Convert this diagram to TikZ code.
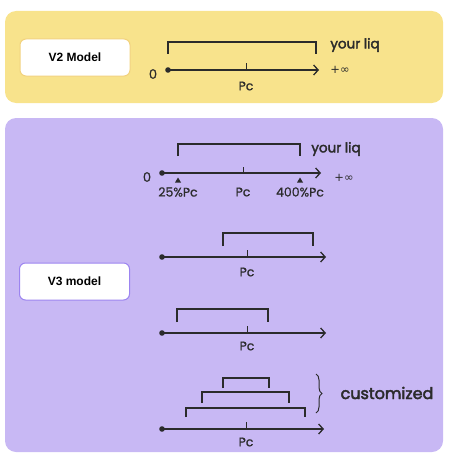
\documentclass[tikz,border=0pt]{standalone}
\usepackage{fontspec}
\setmainfont{Poppins}
\newfontfamily\arialfont{Liberation Sans}
\newfontfamily\symfont{DejaVu Sans}
\newfontfamily\medfont{Poppins}[FakeBold=0.8]
\newfontfamily\semifont{Poppins}[FakeBold=2.6]
\usetikzlibrary{arrows.meta,decorations.pathreplacing}
\definecolor{vtwofill}{HTML}{F8E38C}
\definecolor{vthreefill}{HTML}{C8B8F4}
\definecolor{vtwoline}{HTML}{F2D27E}
\definecolor{vthreeline}{HTML}{9C84F0}
\definecolor{ink}{HTML}{2B2B2B}
\tikzset{
  panel/.style={rounded corners=11pt},
  modelbox/.style={fill=white, rounded corners=6pt, line width=1pt,
    minimum width=110pt, minimum height=37pt, font=\arialfont\bfseries\fontsize{12}{14}\selectfont},
  axis/.style={draw=ink, line width=1.4pt, -{Straight Barb[length=4.5pt,width=10pt,line width=1.3pt]}},
  liq/.style={draw=ink, line width=1.5pt},
  pclabel/.style={text=ink, font=\medfont\fontsize{12.5}{14}\selectfont},
  zerolabel/.style={text=ink, font=\medfont\fontsize{13}{14}\selectfont},
  inflabel/.style={text=ink, font=\symfont\fontsize{11.5}{13}\selectfont},
  liqlabel/.style={text=ink, font=\semifont\fontsize{13.5}{15}\selectfont},
}
\begin{document}
\begin{tikzpicture}[x=1pt,y=-1pt]
\useasboundingbox (0,0) rectangle (448,460);

% panels
\fill[panel, vtwofill] (5,11) rectangle (443,103);
\fill[panel, vthreefill] (5,118) rectangle (443,452);

\node[modelbox, draw=vtwoline] (v2box) at (75,57.5) {V2 Model};
\node[modelbox, draw=vthreeline] (v3box) at (74.5,281.5) {V3 model};

% V2 axis
\coordinate (a1s) at (168,70);
\coordinate (a1e) at (319,70);
\draw[axis] (a1s) -- (a1e);
\fill[ink] (a1s) circle (2.8pt);
\coordinate (t1) at (246,70);
\draw[liq, line width=1pt] (t1) -- ++(0,-7);
\node[zerolabel] (z1) at (153,74) {0};
\node[inflabel] (i1) at (340,70) {+∞};
\node[pclabel] (p1) at (246,86) {Pc};
\coordinate (b1l) at (168,54);
\coordinate (b1r) at (316,54);
\draw[liq] (b1l) |- (242,42) -| (b1r);
\node[liqlabel] (l1) at (355,45) {your liq};

% V3 axis with bounds
\coordinate (a2s) at (162,173);
\coordinate (a2e) at (321,173);
\draw[axis] (a2s) -- (a2e);
\fill[ink] (a2s) circle (2.8pt);
\coordinate (t2) at (243,173);
\draw[liq, line width=1pt] (t2) -- ++(0,-6);
\node[zerolabel] (z2) at (147,177) {0};
\node[inflabel] (i2) at (344,178) {+∞};
\coordinate (lo) at (178,177.5);
\coordinate (hi) at (300,177.5);
\fill[ink] (lo) -- ++(-3,5) -- ++(6,0) -- cycle;
\fill[ink] (hi) -- ++(-3,5) -- ++(6,0) -- cycle;
\node[pclabel] (q1) at (178,192) {25\%Pc};
\node[pclabel] (p2) at (243,192) {Pc};
\node[pclabel] (q2) at (300,192) {400\%Pc};
\coordinate (b2l) at (178,156);
\coordinate (b2r) at (300,156);
\draw[liq] (b2l) |- (239,144) -| (b2r);
\node[liqlabel] (l2) at (336,149) {your liq};

% range above Pc
\coordinate (a3s) at (162,257);
\coordinate (a3e) at (326,257);
\draw[axis] (a3s) -- (a3e);
\fill[ink] (a3s) circle (2.8pt);
\coordinate (t3) at (247,257);
\draw[liq, line width=1pt] (t3) -- ++(0,-7);
\node[pclabel] (p3) at (247,272) {Pc};
\coordinate (b3l) at (223,246);
\coordinate (b3r) at (313,246);
\draw[liq] (b3l) |- (268,233) -| (b3r);

% range below Pc
\coordinate (a4s) at (162,333);
\coordinate (a4e) at (326,333);
\draw[axis] (a4s) -- (a4e);
\fill[ink] (a4s) circle (2.8pt);
\coordinate (t4) at (247,333);
\draw[liq, line width=1pt] (t4) -- ++(0,-7);
\node[pclabel] (p4) at (247,346) {Pc};
\coordinate (b4l) at (177,322);
\coordinate (b4r) at (268,322);
\draw[liq] (b4l) |- (222,309) -| (b4r);

% customized ranges
\coordinate (a5s) at (162,429);
\coordinate (a5e) at (324,429);
\draw[axis] (a5s) -- (a5e);
\fill[ink] (a5s) circle (2.8pt);
\coordinate (t5) at (246,429);
\draw[liq, line width=1pt] (t5) -- ++(0,-7);
\node[pclabel] (p5) at (246,442) {Pc};
\coordinate (c1l) at (223,388);
\coordinate (c1r) at (269,388);
\draw[liq] (c1l) |- (246,378) -| (c1r);
\coordinate (c2l) at (202,403);
\coordinate (c2r) at (289,403);
\draw[liq] (c2l) |- (245,392) -| (c2r);
\coordinate (c3l) at (186,417);
\coordinate (c3r) at (305,417);
\draw[liq] (c3l) |- (245,408) -| (c3r);
\coordinate (br1) at (316,374);
\coordinate (br2) at (316,413);
\draw[draw=ink, line width=1pt, decorate, decoration={brace, amplitude=6pt}] (br1) -- (br2);
\node[liqlabel, font=\semifont\fontsize{16}{18}\selectfont] (cu) at (387,393) {customized};

\end{tikzpicture}
\end{document}
